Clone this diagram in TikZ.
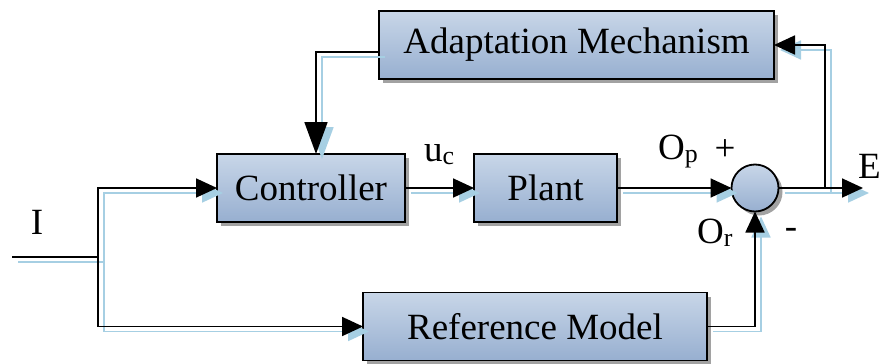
\documentclass[tikz,border=0pt]{standalone}
\usepackage{fontspec}
\setmainfont{Liberation Serif}
\newfontfamily\diagramfont{Liberation Serif}
\usetikzlibrary{arrows.meta,shadows}

\definecolor{boxtop}{HTML}{C8D6E8}
\definecolor{boxbot}{HTML}{97AFD0}
\definecolor{wireblue}{HTML}{A6CFE3}
\definecolor{shadowgray}{HTML}{A2A2A2}

\tikzset{
  block/.style={rectangle, draw=black, line width=1.8pt, top color=boxtop, bottom color=boxbot,
    minimum height=68pt, inner sep=0pt, outer sep=0pt,
    font=\diagramfont\fontsize{37}{44}\selectfont,
    drop shadow={shadow xshift=4pt, shadow yshift=-4pt, fill=shadowgray, opacity=1}},
  summer/.style={circle, draw=black, line width=1.8pt, top color=boxtop, bottom color=boxbot,
    minimum size=47pt, inner sep=0pt, outer sep=0pt,
    drop shadow={shadow xshift=4pt, shadow yshift=-4pt, fill=shadowgray, opacity=1}},
  sigtext/.style={font=\diagramfont\fontsize{37}{44}\selectfont, inner sep=0pt},
  tip/.style={-{Triangle[length=21pt,width=19pt]}},
  bigtip/.style={-{Triangle[length=32pt,width=23pt]}},
  wirecast/.style={draw=wireblue, line width=1.8pt,
    transform canvas={shift={(6pt,-5pt)}}},
  wireline/.style={draw=black, line width=1.8pt},
}

% all signal connectors, drawn with the style given as argument
\newcommand\signalpaths[1]{%
  \draw[#1, tip] (ctrl.east) -- (plant.west);
  \draw[#1, tip] (plant.east) -- (sum.west);
  \draw[#1, tip] (sum.east) -- (eout);
  \draw[#1, tip] (tap) |- (adapt.east);
  \draw[#1, bigtip] ([yshift=-7pt]adapt.west) -| ([xshift=5pt]ctrl.north);
  \draw[#1, tip] (ref.east) -| (sum.south);
  \draw[#1] (inp) -- (split);
  \draw[#1, tip] (split) |- (ctrl.west);
  \draw[#1, tip] (split) |- (ref.west);
}

\begin{document}
\begin{tikzpicture}[x=1pt, y=-1pt]
  \useasboundingbox (0,0) rectangle (886,364);

  % blocks
  \node[block, minimum width=395pt] (adapt) at (576.5,45) {Adaptation Mechanism};
  \node[block, minimum width=188pt] (ctrl)  at (311,188) {Controller};
  \node[block, minimum width=143pt] (plant) at (545.5,188) {Plant};
  \node[block, minimum width=344pt] (ref)   at (535,326.5) {Reference Model};
  \node[summer] (sum) at (755,188) {};

  % free ends and branch points
  \coordinate (eout)  at (863,188);
  \coordinate (tap)   at (825,188);
  \coordinate (inp)   at (12,257);
  \coordinate (split) at (98,257);

  % light blue echo of the wires, then the wires themselves
  \signalpaths{wirecast}
  \signalpaths{wireline}

  % signal labels
  \node[sigtext] (lI) at (37,222) {I};
  \node[sigtext, anchor=base west] (luc) at (424,161) {u\textsubscript{c}};
  \node[sigtext, anchor=base west] (lop) at (658,159) {O\textsubscript{p}};
  \node[sigtext] (lplus) at (725,150) {+};
  \node[sigtext, anchor=base west] (lE) at (858,178) {E};
  \node[sigtext, anchor=base west] (lor) at (697,243) {O\textsubscript{r}};
  \node[sigtext] (lminus) at (791,233) {-};
\end{tikzpicture}
\end{document}
